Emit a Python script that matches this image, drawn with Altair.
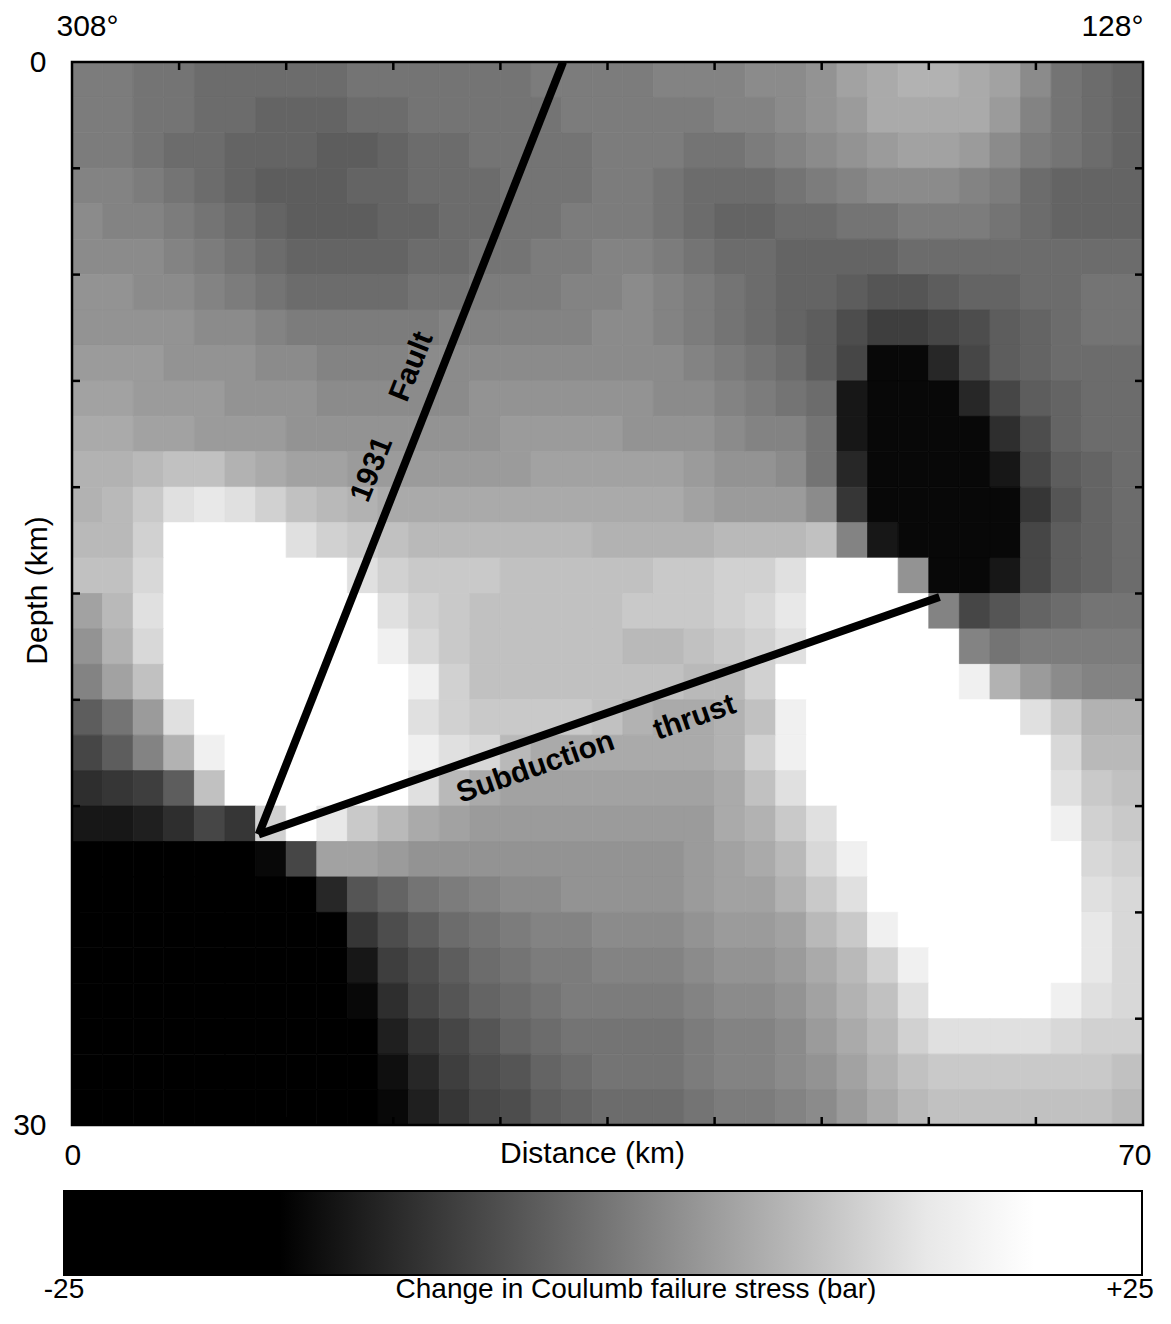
import altair as alt
import pandas as pd

# ---------------- data ----------------
distance_edges_km = [0, 2, 4, 6, 8, 10, 12, 14, 16, 18, 20, 22, 24, 26, 28, 30, 32, 34,
                     36, 38, 40, 42, 44, 46, 48, 50, 52, 54, 56, 58, 60, 62, 64, 66, 68, 70]
depth_edges_km = [0, 1, 2, 3, 4, 5, 6, 7, 8, 9, 10, 11, 12, 13, 14, 15, 16, 17, 18, 19,
                  20, 21, 22, 23, 24, 25, 26, 27, 28, 29, 30]

# Change in Coulomb failure stress (bar), one list per 1-km depth row, 2-km columns
r00 = [1,1,0,0,-1,-1,-1,-1,-1,0,0,0,0,0,0,1,1,1,1,2,2,2,3,3,4,6,7,8,8,7,6,3,0,-1,-2]
r01 = [1,1,0,0,-1,-1,-2,-2,-2,-1,-1,0,0,0,0,0,1,1,1,1,1,2,2,3,4,5,7,7,7,7,5,2,0,-1,-2]
r02 = [1,1,0,-1,-1,-2,-2,-2,-3,-3,-2,-1,-1,0,0,0,0,1,1,1,0,0,1,2,3,4,5,6,6,5,3,1,0,-1,-2]
r03 = [2,2,1,0,-1,-2,-3,-3,-3,-2,-2,-1,-1,-1,0,0,0,1,1,0,-1,-1,-1,0,1,2,3,3,3,2,1,-1,-2,-2,-2]
r04 = [3,2,2,1,0,-1,-2,-3,-3,-3,-2,-2,-1,-1,0,0,1,1,1,0,-1,-2,-2,-1,-1,0,0,1,1,1,0,-1,-2,-2,-2]
r05 = [3,3,3,2,1,0,-1,-2,-2,-2,-2,-1,-1,0,0,1,1,2,2,1,0,-1,-1,-2,-2,-2,-2,-1,-1,-1,-1,-1,-1,-1,-1]
r06 = [4,4,3,3,2,1,0,-1,-1,-1,-1,0,0,1,1,1,2,2,3,2,1,0,-1,-2,-2,-3,-4,-4,-3,-2,-2,-1,-1,0,0]
r07 = [4,4,4,4,3,3,2,1,1,1,1,1,2,2,2,2,2,3,3,2,1,0,-1,-2,-3,-5,-7,-7,-6,-5,-3,-2,-1,0,0]
r08 = [5,5,5,4,4,4,3,3,2,2,2,3,3,3,3,3,3,3,3,3,2,1,0,-1,-3,-6,-14,-14,-10,-6,-3,-2,-1,-1,-1]
r09 = [6,6,5,5,5,4,4,4,3,3,3,3,3,4,4,4,4,4,4,3,3,2,1,0,-1,-12,-14,-14,-14,-10,-6,-3,-2,-1,-1]
r10 = [7,7,6,6,5,5,5,4,4,4,4,4,4,4,5,5,5,5,4,4,4,3,2,2,0,-12,-14,-14,-14,-14,-9,-5,-2,-1,-1]
r11 = [8,8,9,10,10,8,7,6,6,5,5,5,5,5,5,6,6,6,6,6,5,4,4,3,0,-10,-14,-14,-14,-14,-12,-6,-3,-2,-1]
r12 = [8,9,11,14,15,14,12,10,9,8,7,7,7,7,7,7,7,7,7,7,6,5,5,5,3,-8,-14,-14,-14,-14,-14,-8,-4,-2,-1]
r13 = [9,9,12,18,20,20,18,14,12,11,10,9,9,9,9,9,9,8,8,8,8,9,9,9,10,2,-12,-14,-14,-14,-14,-6,-3,-2,-1]
r14 = [10,10,13,20,20,20,20,20,18,14,12,11,11,11,10,10,10,10,10,11,11,12,12,14,18,18,18,4,-14,-14,-12,-6,-3,-2,-1]
r15 = [6,9,14,20,20,20,20,20,20,18,14,12,11,10,10,10,10,10,11,11,11,12,13,15,18,20,20,20,2,-6,-4,-2,-1,0,0]
r16 = [4,8,13,20,20,20,20,20,20,20,16,13,11,10,10,10,10,10,9,9,10,11,12,14,18,20,20,20,18,2,0,1,1,1,1]
r17 = [2,6,10,20,20,20,20,20,20,20,20,16,12,10,10,10,10,10,10,10,9,9,12,18,20,20,20,20,20,16,8,5,3,2,2]
r18 = [-3,0,5,14,20,20,20,20,20,20,18,14,12,11,11,11,11,10,8,7,7,8,10,16,20,20,20,20,20,20,18,14,11,8,8]
r19 = [-6,-3,2,8,16,20,20,20,20,20,18,16,14,13,9,7,7,7,7,7,7,8,12,16,20,20,20,20,20,20,20,18,13,9,9]
r20 = [-9,-8,-7,-3,10,20,20,20,20,20,20,14,9,7,6,6,6,6,6,6,6,7,10,14,20,20,20,20,20,20,20,20,14,11,10]
r21 = [-12,-12,-11,-9,-6,-8,12,18,15,11,9,7,6,5,5,5,5,5,5,5,5,7,8,11,14,18,20,20,20,20,20,20,16,12,11]
r22 = [-16,-16,-16,-16,-16,-16,-14,-6,6,6,5,4,4,4,4,4,4,4,4,4,5,6,7,9,13,16,20,20,20,20,20,20,18,13,12]
r23 = [-16,-16,-16,-16,-16,-16,-16,-16,-10,-4,-2,0,1,2,3,3,4,4,4,4,5,6,6,8,11,14,20,20,20,20,20,20,18,14,13]
r24 = [-16,-16,-16,-16,-16,-16,-16,-16,-16,-8,-5,-3,-1,0,1,2,2,3,3,3,4,5,5,6,9,11,16,20,20,20,20,20,18,15,13]
r25 = [-16,-16,-16,-16,-16,-16,-16,-16,-16,-12,-7,-5,-3,-1,0,1,1,2,2,2,3,4,4,5,7,9,12,16,20,20,20,20,18,15,13]
r26 = [-16,-16,-16,-16,-16,-16,-16,-16,-16,-14,-9,-6,-4,-2,-1,0,1,1,1,1,2,3,3,4,6,8,10,14,18,18,18,18,16,14,13]
r27 = [-16,-16,-16,-16,-16,-16,-16,-16,-16,-15,-11,-8,-6,-4,-2,-1,0,0,0,0,1,2,2,3,5,7,9,12,14,14,14,14,13,12,12]
r28 = [-16,-16,-16,-16,-16,-16,-16,-16,-16,-16,-13,-10,-7,-5,-4,-2,-1,0,0,0,1,2,2,3,4,6,8,10,11,11,11,11,11,11,10]
r29 = [-16,-16,-16,-16,-16,-16,-16,-16,-16,-16,-14,-11,-8,-6,-5,-3,-2,-1,-1,-1,0,1,1,2,3,5,7,9,10,10,10,10,10,10,9]
cfs_rows = [r00, r01, r02, r03, r04, r05, r06, r07, r08, r09, r10, r11, r12, r13, r14,
            r15, r16, r17, r18, r19, r20, r21, r22, r23, r24, r25, r26, r27, r28, r29]

# fault traces (km)
fault_1931_x_km = [32.1, 12.2]
fault_1931_depth_km = [0.0, 21.8]
thrust_x_km = [12.2, 56.7]
thrust_depth_km = [21.8, 15.1]

# inner tick positions
x_tick_km = [7, 14, 21, 28, 35, 42, 49, 56, 63]
y_tick_km = [3, 6, 9, 12, 15, 18, 21, 24, 27]

# annotation labels
fault_label_text = ["1931", "Fault"]
fault_label_x_km = [19.6, 22.2]
fault_label_depth_km = [11.5, 8.6]
thrust_label_text = ["Subduction", "thrust"]
thrust_label_x_km = [30.3, 40.7]
thrust_label_depth_km = [19.9, 18.5]

colorbar_labels = ["-25", "+25"]
colorbar_title = "Change in Coulumb failure stress (bar)"
azimuth_labels = ["308°", "128°"]

# ---------------- tables ----------------
cells = []
for j, row in enumerate(cfs_rows):
    for k, v in enumerate(row):
        cells.append({"x0": distance_edges_km[k], "x1": distance_edges_km[k + 1],
                      "d0": depth_edges_km[j], "d1": depth_edges_km[j + 1], "cfs": v})
cells_df = pd.DataFrame(cells)

lines_df = pd.DataFrame({
    "fault": ["1931"] * 2 + ["thrust"] * 2,
    "seq": [0, 1, 0, 1],
    "x": fault_1931_x_km + thrust_x_km,
    "depth": fault_1931_depth_km + thrust_depth_km,
})
frame_df = pd.DataFrame({"x0": [distance_edges_km[0]], "x1": [distance_edges_km[-1]],
                         "d0": [depth_edges_km[0]], "d1": [depth_edges_km[-1]]})
xt_df = pd.DataFrame({"x": x_tick_km})
yt_df = pd.DataFrame({"d": y_tick_km})
fault_lab_df = pd.DataFrame({"label": fault_label_text, "x": fault_label_x_km, "depth": fault_label_depth_km})
thrust_lab_df = pd.DataFrame({"label": thrust_label_text, "x": thrust_label_x_km, "depth": thrust_label_depth_km})

W, H = 1071, 1063
FONT = "Liberation Sans"
CB_TEXT_Y = 1228

xs = alt.Scale(domain=[distance_edges_km[0], distance_edges_km[-1]], nice=False, zero=False)
ys = alt.Scale(domain=[depth_edges_km[0], depth_edges_km[-1]], nice=False, zero=False, reverse=True)
cs = alt.Scale(type="linear", domain=[-25, -15, 18, 25],
               range=["#000000", "#000000", "#ffffff", "#ffffff"], interpolate="rgb")

x_axis_bottom = alt.Axis(orient="bottom", values=[0, 70], format="d", labelFontSize=30,
                         labelColor="black", labelPadding=15, labelFlush=True, labelFlushOffset=8,
                         ticks=False, domain=False, grid=False,
                         title="Distance (km)", titleFontSize=30, titleFontWeight="normal",
                         titleColor="black", titleX=520, titleY=13, titleBaseline="top")
y_axis_left = alt.Axis(orient="left", values=[0, 30], format="d", labelFontSize=30,
                       labelColor="black", labelPadding=26, ticks=False, domain=False, grid=False,
                       title="Depth (km)", titleFontSize=30, titleFontWeight="normal",
                       titleColor="black", titleX=-35, titleY=528, titleBaseline="middle",
                       titleAngle=270)
x_axis_top = alt.Axis(orient="top", values=[0, 70],
                      labelExpr=f"datum.value == 0 ? '{azimuth_labels[0]}' : '{azimuth_labels[1]}'",
                      labelFontSize=30, labelColor="black", labelPadding=21, labelFlush=True,
                      labelFlushOffset=8, labelOffset=-8, ticks=False, domain=False, grid=False,
                      title=None)

legend = alt.Legend(type="gradient", orient="none", legendX=-8, legendY=1129,
                    direction="horizontal", gradientLength=1078, gradientThickness=84,
                    gradientStrokeColor="black", gradientStrokeWidth=2,
                    values=[-25, 25], labelExpr="''", labelFontSize=1, title=None)

heat = alt.Chart(cells_df).mark_rect(
    stroke=alt.ExprRef("scale('color', datum.cfs)"), strokeWidth=0.8
).encode(
    x=alt.X("x0:Q", scale=xs, axis=x_axis_bottom),
    x2="x1:Q",
    y=alt.Y("d0:Q", scale=ys, axis=y_axis_left),
    y2="d1:Q",
    color=alt.Color("cfs:Q", scale=cs, legend=legend),
)

frame = alt.Chart(frame_df).mark_rect(fillOpacity=0, stroke="black", strokeWidth=2.5).encode(
    x=alt.X("x0:Q", scale=xs, axis=None), x2="x1:Q",
    y=alt.Y("d0:Q", scale=ys, axis=None), y2="d1:Q",
)

faults = alt.Chart(lines_df).mark_line(color="black", strokeWidth=8, clip=True).encode(
    x=alt.X("x:Q", scale=xs, axis=None),
    y=alt.Y("depth:Q", scale=ys, axis=None),
    detail="fault:N",
    order="seq:O",
)

tick_top = alt.Chart(xt_df).mark_rule(color="black", strokeWidth=2.5).encode(
    x=alt.X("x:Q", scale=xs, axis=x_axis_top), y=alt.value(0), y2=alt.value(8))
tick_bottom = alt.Chart(xt_df).mark_rule(color="black", strokeWidth=2.5).encode(
    x=alt.X("x:Q", scale=xs, axis=None), y=alt.value(H - 8), y2=alt.value(H))
tick_left = alt.Chart(yt_df).mark_rule(color="black", strokeWidth=2.5).encode(
    y=alt.Y("d:Q", scale=ys, axis=None), x=alt.value(0), x2=alt.value(8))
tick_right = alt.Chart(yt_df).mark_rule(color="black", strokeWidth=2.5).encode(
    y=alt.Y("d:Q", scale=ys, axis=None), x=alt.value(W - 8), x2=alt.value(W))

fault_text = alt.Chart(fault_lab_df).mark_text(
    angle=291.8, font=FONT, fontWeight="bold", fontSize=30, color="black",
    align="center", baseline="middle").encode(
    x=alt.X("x:Q", scale=xs, axis=None), y=alt.Y("depth:Q", scale=ys, axis=None), text="label:N")
thrust_text = alt.Chart(thrust_lab_df).mark_text(
    angle=340.7, font=FONT, fontWeight="bold", fontSize=30, color="black",
    align="center", baseline="middle").encode(
    x=alt.X("x:Q", scale=xs, axis=None), y=alt.Y("depth:Q", scale=ys, axis=None), text="label:N")

cb_left = alt.Chart(pd.DataFrame({"t": [colorbar_labels[0]]})).mark_text(
    font=FONT, fontSize=28, color="black", align="center", baseline="middle").encode(
    text="t:N", x=alt.value(-8), y=alt.value(CB_TEXT_Y))
cb_right = alt.Chart(pd.DataFrame({"t": [colorbar_labels[1]]})).mark_text(
    font=FONT, fontSize=28, color="black", align="center", baseline="middle").encode(
    text="t:N", x=alt.value(1058), y=alt.value(CB_TEXT_Y))
cb_title = alt.Chart(pd.DataFrame({"t": [colorbar_title]})).mark_text(
    font=FONT, fontSize=28, color="black", align="center", baseline="middle").encode(
    text="t:N", x=alt.value(564), y=alt.value(CB_TEXT_Y))

chart = alt.layer(
    heat, frame, faults, tick_top, tick_bottom, tick_left, tick_right,
    fault_text, thrust_text, cb_left, cb_right, cb_title,
).resolve_axis(x="independent", y="independent").properties(
    width=W, height=H,
    autosize=alt.AutoSizeParams(type="none"),
    padding={"left": 64, "top": 54, "right": 20, "bottom": 185},
).configure(font=FONT).configure_view(stroke=None)

chart.save("out.html", embed_options={"renderer": "svg", "actions": False})
